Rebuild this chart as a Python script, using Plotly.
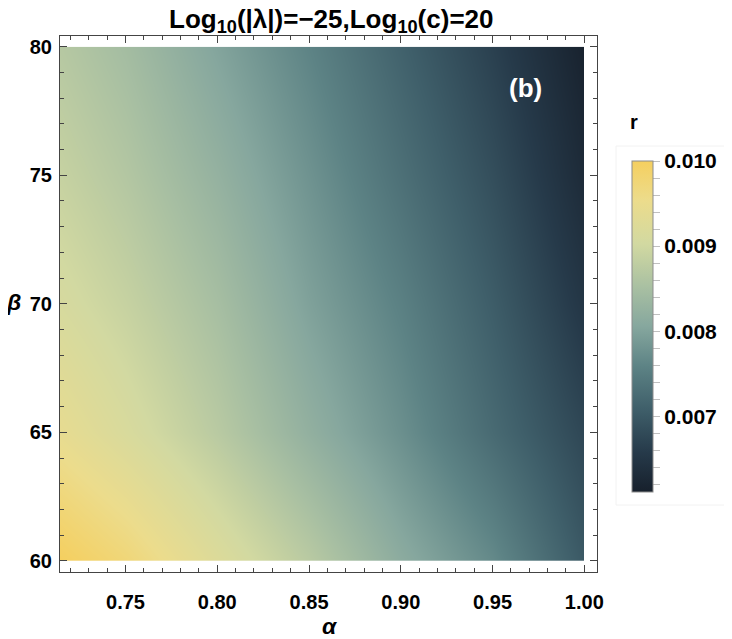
import plotly.graph_objects as go

# grid
alpha = [0.7143, 0.75, 0.80, 0.85, 0.90, 0.95, 1.00]
beta = [60, 65, 70, 75, 80]
r = [
    [0.01000, 0.00974, 0.00923, 0.00872, 0.00814, 0.00767, 0.00700],  # beta=60
    [0.00943, 0.00915, 0.00872, 0.00822, 0.00775, 0.00724, 0.00675],  # beta=65
    [0.00911, 0.00888, 0.00849, 0.00798, 0.00755, 0.00705, 0.00650],  # beta=70
    [0.00888, 0.00865, 0.00825, 0.00779, 0.00732, 0.00685, 0.00630],  # beta=75
    [0.00868, 0.00845, 0.00802, 0.00759, 0.00712, 0.00666, 0.00615],  # beta=80
]
r_min, r_max = 0.00611, 0.0100
cbar_major = [0.007, 0.008, 0.009, 0.010]
cbar_ticks = [0.0062, 0.0064, 0.0066, 0.0068, 0.0070, 0.0072, 0.0074, 0.0076, 0.0078,
              0.0080, 0.0082, 0.0084, 0.0086, 0.0088, 0.0090, 0.0092, 0.0094, 0.0096,
              0.0098, 0.0100]

# StarryNight-like palette
scale = [
    [0.0, "#17202c"], [0.12, "#263a4a"], [0.25, "#3f5f6a"], [0.38, "#5d8385"],
    [0.5, "#86a79e"], [0.62, "#a9c0a2"], [0.75, "#d2d9a1"], [0.88, "#ecdc8c"],
    [1.0, "#f5cf5f"],
]

FONT = "Liberation Sans"
OFF = 8  # page body margin
W, H = 732 - OFF, 639 - OFF
L, T = 60 - OFF, 36 - OFF
R, B = W - (597 - OFF), H - (572 - OFF)

def px_x(p):
    # page pixel -> paper x
    return (p - OFF - L) / (W - L - R)

def px_y(p):
    return (H - B - (p - OFF)) / (H - T - B)

cb_text = []
for v in cbar_ticks:
    hit = [m for m in cbar_major if abs(m - v) < 1e-7]
    cb_text.append(f"{hit[0]:.3f}" if hit else "")

fig = go.Figure()
fig.add_trace(go.Heatmap(
    x=alpha, y=beta, z=r,
    zsmooth="best",
    colorscale=scale, zmin=r_min, zmax=r_max,
    xaxis="x", yaxis="y",
    colorbar=dict(
        x=px_x(632), xanchor="left", xpad=0, ypad=0,
        y=px_y(326.5), yanchor="middle",
        thickness=21, lenmode="pixels", len=331,
        outlinewidth=1, outlinecolor="#8c8c8c",
        tickmode="array", tickvals=cbar_ticks, ticktext=cb_text,
        ticks="outside", ticklen=7, tickcolor="#c0c0c0",
        tickfont=dict(family=FONT, size=21, color="black", weight="bold"),
    ),
    hoverinfo="skip",
))
# empty trace for the frame axes
fig.add_trace(go.Scatter(x=[], y=[], xaxis="x2", yaxis="y2", showlegend=False))


def label(text, x, y, size, color="black"):
    return dict(text=text, xref="paper", yref="paper", x=px_x(x), y=px_y(y),
                showarrow=False, xanchor="center", yanchor="middle",
                font=dict(family=FONT, size=size, color=color, weight="bold"))


tick_font = dict(family=FONT, size=20, color="black", weight="bold")
fig.update_layout(
    width=W, height=H,
    margin=dict(l=L, r=R, t=T, b=B),
    paper_bgcolor="white", plot_bgcolor="rgba(0,0,0,0)",
    showlegend=False,
    xaxis=dict(domain=[0, px_x(584.3)], range=[0.7143, 1.0], visible=False, fixedrange=True),
    yaxis=dict(domain=[px_y(561), px_y(46.7)], range=[60, 80], visible=False, fixedrange=True),
    xaxis2=dict(
        domain=[0, 1], anchor="y2", range=[0.7143, 1.0069], automargin=False,
        showline=True, linecolor="#444", linewidth=1, mirror="ticks",
        showgrid=False, zeroline=False,
        ticks="inside", ticklen=7, tickcolor="#444",
        tickvals=[0.75, 0.80, 0.85, 0.90, 0.95, 1.00], tickformat=".2f",
        minor=dict(dtick=0.01, tick0=0.7, ticks="inside", ticklen=4, tickcolor="#444"),
        tickfont=tick_font, ticklabelstandoff=12,
    ),
    yaxis2=dict(
        domain=[0, 1], anchor="x2", range=[59.572, 80.416], automargin=False,
        showline=True, linecolor="#444", linewidth=1, mirror="ticks",
        showgrid=False, zeroline=False,
        ticks="inside", ticklen=7, tickcolor="#444",
        tickvals=[60, 65, 70, 75, 80],
        minor=dict(dtick=1, tick0=60, ticks="inside", ticklen=4, tickcolor="#444"),
        tickfont=tick_font, ticklabelstandoff=3,
    ),
    shapes=[dict(type="rect", xref="paper", yref="paper",
                 x0=px_x(616), x1=px_x(729), y0=px_y(505), y1=px_y(146),
                 line=dict(color="#f2f2f2", width=1), fillcolor="rgba(0,0,0,0)",
                 layer="below")],
    annotations=[
        label("Log<sub>10</sub>(|λ|)=−25,Log<sub>10</sub>(c)=20", 331, 21, 26),
        label("<i>α</i>", 330, 626, 23),
        label("<i>β</i>", 13, 302, 23),
        label("(b)", 525, 88, 26, color="white"),
        label("r", 634, 122, 20),
    ],
)

fig.write_html("out.html")
